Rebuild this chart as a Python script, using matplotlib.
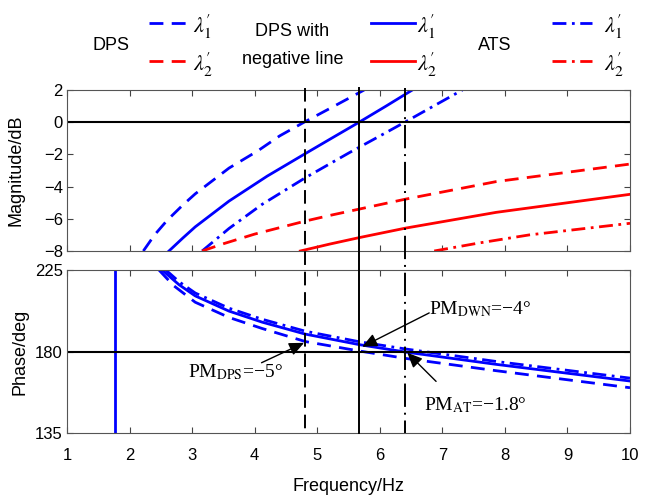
import matplotlib
matplotlib.use("Agg")
import matplotlib.pyplot as plt
from matplotlib.lines import Line2D
from matplotlib.transforms import blended_transform_factory

plt.rcParams["font.family"] = ["Liberation Sans", "DejaVu Sans"]
plt.rcParams["mathtext.fontset"] = "stix"

# ---- data ------------------------------------------------------------
# magnitude (dB), lambda1' (blue) and lambda2' (red)
f_m_dps1 = [2.22, 2.40, 2.60, 2.85, 3.05, 3.59, 4.05, 4.40, 4.79, 5.20, 5.75]
m_dps1 = [-8.0, -7.0, -6.1, -5.15, -4.45, -2.85, -1.78, -0.85, 0.0, 0.85, 2.0]
f_m_neg1 = [2.63, 2.85, 3.05, 3.59, 4.20, 4.81, 5.25, 5.67, 6.10, 6.52]
m_neg1 = [-8.0, -7.2, -6.5, -4.9, -3.35, -1.95, -0.95, 0.0, 1.0, 2.0]
f_m_ats1 = [3.16, 3.59, 4.12, 4.81, 5.51, 5.99, 6.40, 6.85, 7.32]
m_ats1 = [-8.0, -6.6, -5.1, -3.45, -1.9, -0.88, 0.0, 0.98, 2.0]

f_m_dps2 = [3.16, 3.50, 4.00, 4.81, 5.19, 6.41, 7.86, 10.0]
m_dps2 = [-8.0, -7.55, -6.95, -6.14, -5.8, -4.78, -3.69, -2.6]
f_m_neg2 = [4.73, 5.20, 5.67, 6.41, 7.86, 10.0]
m_neg2 = [-8.0, -7.57, -7.17, -6.58, -5.6, -4.48]
f_m_ats2 = [6.87, 7.59, 8.39, 10.0]
m_ats2 = [-8.0, -7.5, -7.0, -6.28]

# phase (deg), lambda1' only
f_p_dps = [2.47, 2.70, 3.05, 3.59, 4.12, 4.81, 5.67, 6.41, 7.86, 10.0]
p_dps = [225, 216.5, 207.2, 198.8, 192.7, 185.5, 180.3, 176.2, 169.4, 160.0]
f_p_neg = [2.52, 2.79, 3.05, 3.59, 4.12, 4.81, 5.67, 6.41, 7.86, 10.0]
p_neg = [225, 216.9, 210.7, 202.3, 196.2, 189.6, 183.8, 179.7, 172.9, 163.7]
f_p_ats = [2.58, 2.80, 3.05, 3.59, 4.12, 4.81, 5.67, 6.41, 7.86, 10.0]
p_ats = [225, 218.3, 212.3, 203.9, 197.8, 191.2, 185.4, 181.4, 174.5, 165.3]
f_jump = [1.76, 1.76]
p_jump = [135, 225]

# crossover frequencies (Hz)
fc_dps, fc_neg, fc_ats = 4.81, 5.67, 6.40

x_ticks = list(range(1, 11))
mag_ticks = [-8, -6, -4, -2, 0, 2]
ph_ticks = [135, 180, 225]

# ---- layout -----------------------------------------------------------
W, H = 649, 498
fig = plt.figure(figsize=(W / 100, H / 100), dpi=100)


def fx(px):
    return px / W


def fy(py):
    return 1 - py / H


L, R = 67, 630
ax_m = fig.add_axes([fx(L), fy(251), fx(R) - fx(L), fy(90) - fy(251)])
ax_p = fig.add_axes([fx(L), fy(433), fx(R) - fx(L), fy(270) - fy(433)])

BLUE, RED = "#0000ff", "#ff0000"
DASH = (0, (5, 3))
DASHDOT = (0, (5, 2, 1, 2))
LW = 2.0

ax_m.plot(f_m_dps1, m_dps1, color=BLUE, ls=DASH, lw=LW)
ax_m.plot(f_m_neg1, m_neg1, color=BLUE, ls="-", lw=LW)
ax_m.plot(f_m_ats1, m_ats1, color=BLUE, ls=DASHDOT, lw=LW)
ax_m.plot(f_m_dps2, m_dps2, color=RED, ls=DASH, lw=LW)
ax_m.plot(f_m_neg2, m_neg2, color=RED, ls="-", lw=LW)
ax_m.plot(f_m_ats2, m_ats2, color=RED, ls=DASHDOT, lw=LW)
ax_m.axhline(0, color="k", lw=1.5)

ax_p.plot(f_p_dps, p_dps, color=BLUE, ls=DASH, lw=LW)
ax_p.plot(f_p_neg, p_neg, color=BLUE, ls="-", lw=LW)
ax_p.plot(f_p_ats, p_ats, color=BLUE, ls=DASHDOT, lw=LW)
ax_p.plot(f_jump, p_jump, color=BLUE, lw=LW)
ax_p.axhline(180, color="k", lw=1.5)

for ax in (ax_m, ax_p):
    ax.set_xlim(1, 10)
    ax.set_xticks(x_ticks)
    ax.tick_params(direction="in", top=True, right=True, length=4,
                   labelsize=12, color="#444444", pad=3)
    for s in ax.spines.values():
        s.set_color("#555555")
        s.set_linewidth(0.8)

ax_m.set_ylim(-8, 2)
ax_m.set_yticks(mag_ticks)
ax_m.tick_params(labelbottom=False)
ax_p.set_ylim(135, 225)
ax_p.set_yticks(ph_ticks)
ax_p.tick_params(axis="x", pad=11)

# crossover marker lines spanning both panels
tr = blended_transform_factory(ax_m.transData, fig.transFigure)
for f0, ls in ((fc_dps, (0, (7, 3.5))), (fc_neg, "-"), (fc_ats, (0, (12, 3, 1, 3)))):
    fig.add_artist(Line2D([f0, f0], [fy(88), fy(433)], transform=tr,
                          color="k", lw=1.4, ls=ls))

fig.text(fx(16), fy(170), "Magnitude/dB", rotation=90, ha="center", va="center", fontsize=13)
fig.text(fx(20), fy(352), "Phase/deg", rotation=90, ha="center", va="center", fontsize=13)
fig.text(fx(349), fy(486), "Frequency/Hz", ha="center", va="center", fontsize=13)

# phase margin annotations
AP = dict(arrowstyle="-|>,head_length=0.9,head_width=0.4", color="k", lw=1.0,
          shrinkA=0, shrinkB=0)
SERIF = ["Liberation Serif", "DejaVu Serif"]
ax_p.annotate("", xy=(5.72, 182.6), xytext=(6.79, 201.3), arrowprops=AP)
ax_p.text(6.79, 203.5, "PM$_{\\mathrm{DWN}}$=\u22124°", ha="left", va="center",
          fontsize=14, family=SERIF)
ax_p.annotate("", xy=(6.44, 179.3), xytext=(6.90, 163.5), arrowprops=AP)
ax_p.text(6.71, 150.6, "PM$_{\\mathrm{AT}}$=\u22121.8°", ha="left", va="center",
          fontsize=14, family=SERIF)
ax_p.annotate("", xy=(4.79, 184.8), xytext=(4.11, 173.8), arrowprops=AP)
ax_p.text(2.93, 168.8, "PM$_{\\mathrm{DPS}}$=\u22125°", ha="left", va="center",
          fontsize=14, family=SERIF)

# legend across the top
y1, y2 = 23, 61
fig.text(fx(111), fy(45), "DPS", ha="center", va="center", fontsize=13)
fig.text(fx(292), fy(31), "DPS with", ha="center", va="center", fontsize=13)
fig.text(fx(293), fy(59), "negative line", ha="center", va="center", fontsize=13)
fig.text(fx(495), fy(45), "ATS", ha="center", va="center", fontsize=13)
groups = [(149, 191, DASH), (371, 415, "-"), (552, 592, DASHDOT)]
for x0, x1, ls in groups:
    for yy, col, sub in ((y1, BLUE, "1"), (y2, RED, "2")):
        fig.add_artist(Line2D([fx(x0), fx(x1)], [fy(yy), fy(yy)], color=col,
                              lw=LW, ls=ls, transform=fig.transFigure))
        fig.text(fx(x1 + 12 if ls == DASHDOT else x1 + 2), fy(yy + 4),
                 r"$\lambda_{%s}'$" % sub, ha="left", va="center", fontsize=16)

fig.savefig("out.png", dpi=100)
